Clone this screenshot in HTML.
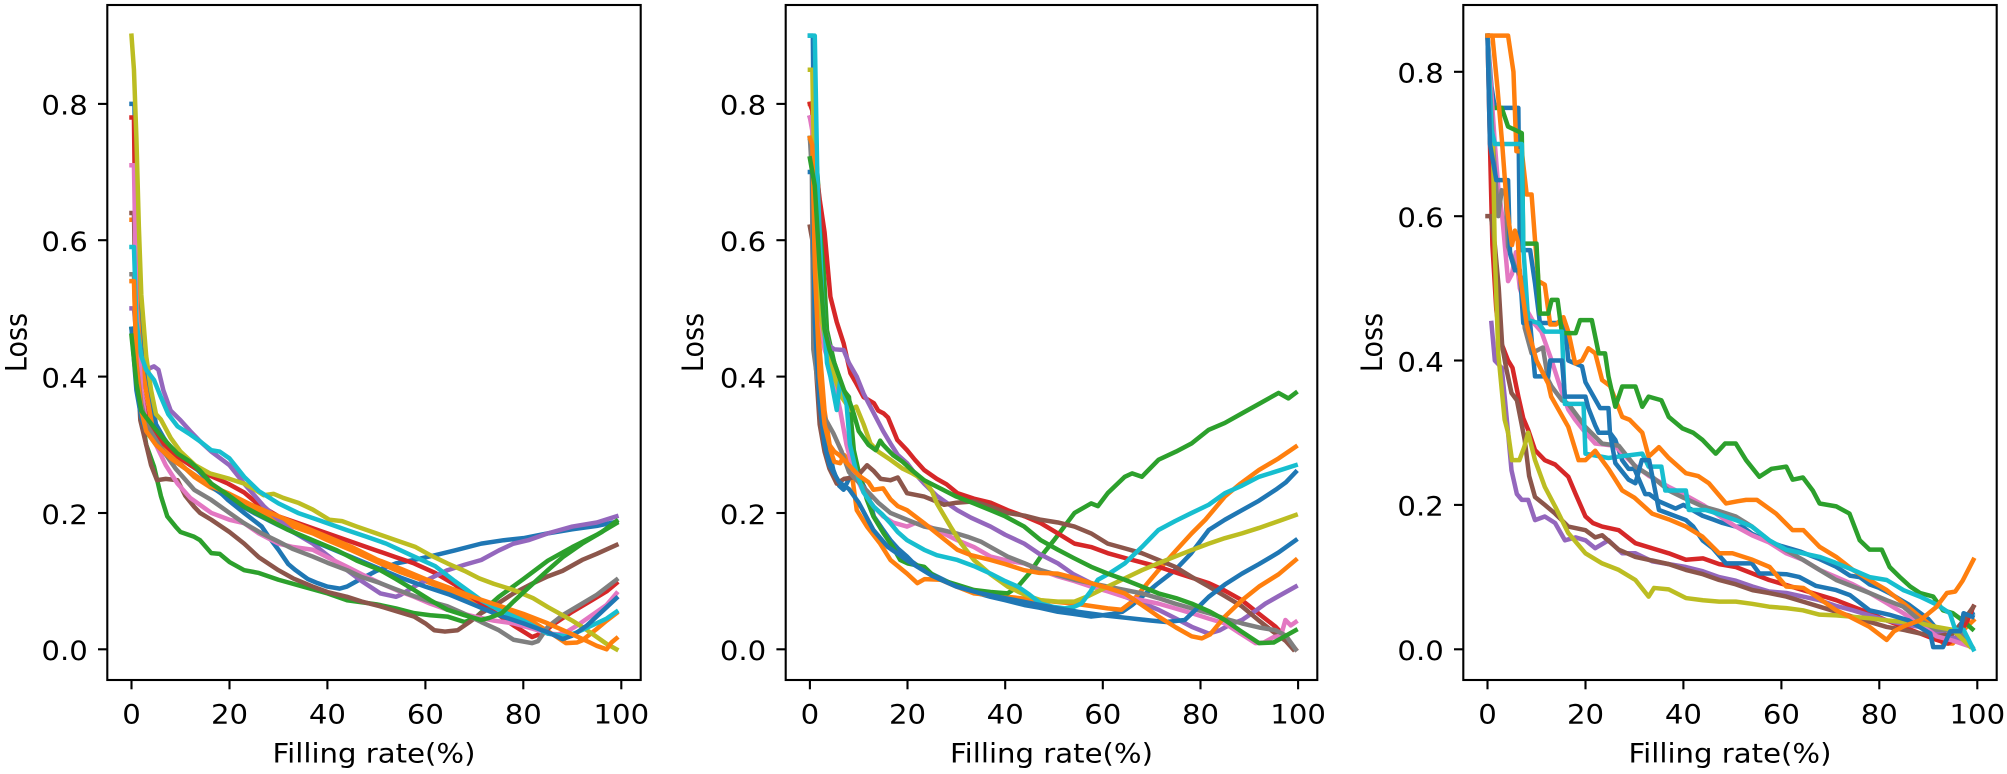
<!DOCTYPE html>
<html><head><meta charset="utf-8"><style>
html,body{margin:0;padding:0;background:#fff;}
svg{display:block;}
text{font-family:"DejaVu Sans","Liberation Sans",sans-serif;font-size:27px;fill:#000;}
.l{fill:none;stroke-width:4.5;stroke-linejoin:round;stroke-linecap:square;vector-effect:non-scaling-stroke;}
.b{stroke:#1f77b4}.o{stroke:#ff7f0e}.g{stroke:#2ca02c}.r{stroke:#d62728}.p{stroke:#9467bd}
.br{stroke:#8c564b}.pk{stroke:#e377c2}.gy{stroke:#7f7f7f}.ol{stroke:#bcbd22}.c{stroke:#17becf}
.tk{stroke:#000;stroke-width:2.1;}
</style></head><body>
<svg width="2007" height="774" viewBox="0 0 2007 774" xmlns="http://www.w3.org/2000/svg">
<defs>
<clipPath id="c1"><rect x="107.3" y="5" width="533.4" height="675"/></clipPath>
<clipPath id="c2"><rect x="785.7" y="5" width="531.6" height="675"/></clipPath>
<clipPath id="c3"><rect x="1463.3" y="5" width="533.4" height="675"/></clipPath>
</defs>
<rect width="2007" height="774" fill="#fff"/>

<!-- PANEL 1 -->
<g clip-path="url(#c1)"><g transform="matrix(4.898 0 0 -0.6818 131.5 649.3)">
<polyline class="l b" points="0,800 0.6,800 1,600 1.5,500 2,440 3,400 4,370 5,330 6.6,310 8,295 10,280 13.5,263 16,245 19.7,219 23,200 26.6,180 28,165 30,146 32,125 33.5,116 36,103 38,97 40,92 42.5,89 44,92 46,100 50,115 54,126 57.7,131 62,138 66,145 71.4,155 76,160 80,163 85,170 90,176 95,181 99,187"/>
<polyline class="l o" points="0,630 0.8,630 1.2,500 2,420 3.2,370 4.6,312 6,300 8,285 10,272 12.8,253 16,238 20,225 23,214 27,200 30,190 33,180 37,170 40,160 45,145 50.8,126 55,113 60,100 64.5,87 70,72 74,62 78,53 82,40 86,22 88.7,9 91,10 92,13 95,30 97,42 99,53"/>
<polyline class="l g" points="0,470 1,430 2,346 3,300 4.6,268 6,225 7.3,195 9,180 10,172 12.8,165 14,160 16.3,141 18,140 20,128 23,116 26,112 30,102 35,92 40,82 44,72 50,66 54,60 57.7,53 61,50 64.5,48 68,40 70,45 72,58 75,77 80,103 85,130 90,150 95,168 99,185"/>
<polyline class="l r" points="0,780 0.5,780 1,480 2,380 3,340 4,330 6,305 9.4,283 12,270 15,258 19.7,243 23,230 26,212 30,195 34,185 38,175 44,160 50,145 54,135 57.7,126 62,112 66,95 71.4,67 75,50 78,35 81.8,18 84,24 86,36 90,55 94,72 97,85 99,97"/>
<polyline class="l p" points="0,500 0.5,500 1,460 2,430 3,410 4.6,415 5.5,410 6.5,380 8,350 10,336 12,320 14,305 16.3,290 20,270 23,243 27,210 30,190 33,172 37,155 40,138 44,116 47,100 50.8,82 54,77 55,80 57.7,92 61,104 64.5,116 68,124 71.4,131 75,145 78,155 81,160 85,170 90,180 95,186 99,195"/>
<polyline class="l br" points="0,640 0.5,640 1,450 1.8,336 3,300 4,270 5.2,248 7,250 9.4,248 11,225 12.8,209 14,200 16.3,190 20,172 23,155 26,135 30,116 33,104 37,92 40,84 44,77 47,70 50.8,63 54,56 57.7,48 60,38 61.8,28 64,26 66.6,28 69,40 71.4,53 75,68 78,82 82,97 85,107 88,115 92,131 95,140 99,153"/>
<polyline class="l pk" points="0,710 0.5,710 1,500 2,380 3,330 5,300 7,270 9.4,243 12,222 16.3,200 20,190 23,185 26,170 30,155 33,150 37,146 40,135 44,121 47,110 50.8,97 54,87 57.7,77 61,67 64.5,58 70,48 74,42 78,38 82,30 85,23 87,22 88.7,25 91,35 94,50 97,65 99,82"/>
<polyline class="l gy" points="0,550 0.5,550 1,420 2,360 3,330 5.9,297 9,265 12.8,234 16.3,219 20,200 23,185 26.6,170 30,158 33,147 37,136 40,127 44,116 47,106 50.8,97 54,88 57.7,78 61,70 64.5,63 68,52 71.4,40 75,28 78,14 81.8,9 83,12 85,33 88,50 92,67 95,80 99,102"/>
<polyline class="l ol" points="0,900 0.5,850 1,750 1.5,620 2,520 3,430 4,380 5,345 6,337 8,310 10,290 13,270 16,258 20,250 23,243 25,235 27,226 29,228 31,222 34,215 37,205 40.4,190 43,188 46,180 50,170 54,160 58,150 61,138 64.5,126 68,115 71,104 74,96 78,87 82,75 85,62 88,50 90,42 92,33 95,18 97,8 99,0"/>
<polyline class="l c" points="0,590 0.5,590 1,480 2,430 3,410 4.6,395 6,370 7.5,345 9.4,327 12,315 14,305 16.3,292 18,290 20,280 23,253 26,232 30,214 34,200 38,190 43.9,175 48,165 52,155 57.7,136 62,122 66,100 71.4,72 75,58 80,42 85,23 88.7,19 91,25 94,35 97,45 99,55"/>
<polyline class="l b" points="0,470 1,380 2,340 3,320 5,300 8,280 10,270 15,245 20,220 25,200 30,182 35,165 40,150 45,135 50,120 55,105 60,92 65,80 70,65 75,50 80,38 85,25 88,15 90,20 93,35 96,55 99,75"/>
<polyline class="l o" points="0,540 0.5,540 1,420 2,350 3,320 5,300 8,280 12,260 16,240 20,228 25,210 30,195 35,180 40,165 45,150 50,132 55,118 60,103 65,90 70,76 75,64 80,52 85,38 90,22 93,12 95,5 97,0 98,10 99,16"/>
<polyline class="l g" points="0,460 1,390 2,350 3,340 5,322 7,305 9.4,287 12,275 14,262 16.3,243 20,225 23,209 28,190 32,175 37,160 42,145 46,130 50.8,116 54,103 57.7,87 61,72 64.5,58 68,50 71.4,43 73,46 75.6,53 78,70 81,90 85,116 88,135 92,155 96,172 99,188"/>
</g></g>

<!-- PANEL 2 -->
<g clip-path="url(#c2)"><g transform="matrix(4.882 0 0 -0.6818 809.9 649.3)">
<polyline class="l b" points="0,900 0.6,900 1,620 1.5,450 2,376 3,320 4.8,263 6,240 6.9,234 8,250 9,260 10,255 12,225 13.1,195 15,175 16.5,160 18,148 19.9,136 21,128 23.4,116 26,107 30.2,92 33,85 37,77 40,72 43.9,65 47,61 50.8,55 54,52 57.6,48 60,50 62,52 64,55 66,65 68,77 71,95 74.8,116 78,140 81.7,175 85,190 88.5,204 92,218 95.4,234 97.5,245 99.5,260"/>
<polyline class="l o" points="0,800 0.5,800 1,600 2,440 3,350 4.2,292 5,275 6.2,273 7,285 7.6,280 8.5,262 9.6,204 11.7,180 14.4,155 16.5,131 19.9,111 22,97 23.5,103 26.8,102 30,92 33.6,82 40.5,77 47,72 54.2,67 61,60 63.8,58 66,70 68,87 71.4,116 75,145 78.2,170 81,190 85,224 88,242 92,263 96,280 99.5,297"/>
<polyline class="l g" points="0,750 1,750 1.5,700 2.5,600 3.5,468 5,420 6.9,380 8,370 9,292 10,260 11.7,219 13,195 15.1,170 17,150 18.5,131 20,126 23.4,121 25,110 26.8,102 30,95 33.6,87 37,84 40.5,82 42.6,92 45,112 47.3,136 50,160 54.2,200 57.6,214 59,210 61,229 64.5,253 66,258 68,253 71.4,278 75,290 78.2,302 81.7,322 85,332 88.5,346 92,360 96,376 98,368 99.5,376"/>
<polyline class="l r" points="0,800 0.5,790 1,720 2,660 3,612 4.2,517 5.5,480 6.9,449 8.3,405 9.5,390 11,370 13.1,361 14,350 15.1,346 16,340 17.9,307 19.9,292 21.5,278 23.4,263 26,250 28,242 30.2,229 33.6,221 37,215 40.5,204 44,195 47.3,185 50.8,170 54.2,155 57.6,150 61,141 65,133 71.4,121 76,110 81.7,97 85,86 88.5,72 92,52 95.4,33 97.5,17 99.5,0"/>
<polyline class="l p" points="0,780 0.5,770 1,620 2,520 3,470 4,445 5,440 6.9,439 8,420 9.6,400 11,375 13.1,346 15,320 16.5,302 18,285 19.9,273 21.5,258 23.4,243 26,225 28,215 30.2,204 33,193 37,180 40,168 43.9,155 47,140 50.8,126 54,110 57.6,97 61,86 64.5,77 68,68 71.4,58 75,45 78.2,33 81.7,23 84,28 86,36 88.5,43 91,55 93.3,67 96,78 99.5,92"/>
<polyline class="l br" points="0,620 0.5,600 1,440 2,330 3,290 4,265 5.5,243 7,250 9.6,253 11.7,270 13,262 14.5,250 16.5,248 18,252 19.9,229 23.4,224 25.5,218 27.5,212 30,215 33.6,217 37,209 40.5,200 44,196 47.3,190 50.8,186 54.2,180 57.6,170 61,155 64.5,148 68,141 71.4,131 74.8,121 78,107 81.7,92 85,78 88.5,63 92,42 95.4,23 97.5,12 99,0"/>
<polyline class="l pk" points="0,780 0.5,760 1,600 2,500 3,440 4.2,415 5,390 6.2,351 7.5,300 9,260 11,230 13,210 15,195 17,186 19.9,180 21.5,185 23.4,183 26,175 30.2,160 33.6,150 37,136 40.5,130 43.9,126 47.3,116 50.8,107 54.2,100 57.6,92 61,85 64.5,77 68,72 71.4,67 74.8,60 78.2,53 81.7,45 85,38 88,24 91.3,9 93,10 95,18 96.5,20 97.4,43 98.5,35 99.5,40"/>
<polyline class="l gy" points="0,750 0.4,700 0.7,440 2.1,366 3,340 4.8,317 6.5,290 8,260 10,245 12,230 14,215 16.5,200 19.9,190 23.4,180 27,175 30,170 32.3,165 35,158 37,150 40.5,136 44,126 47.3,116 50.8,109 54.2,102 57.6,97 61,92 64.5,87 68,82 71.4,75 74.8,67 78.2,60 81.7,53 85,45 88.5,38 92,32 95.4,28 97.5,20 99.5,0"/>
<polyline class="l ol" points="0,850 0.5,850 1,650 2,500 3.5,439 5,400 6.5,370 8.3,351 9.5,356 11,330 12.4,302 14,290 16.5,278 19,265 21,258 23.4,248 25,232 26,214 28.8,180 31,155 33.6,131 37,110 40.5,92 44,80 47.3,72 50.8,70 54.2,70 57,78 61,92 64.5,104 68,116 71,125 74.8,136 78,145 81.7,155 85,163 88.5,170 92,178 96,188 99.5,197"/>
<polyline class="l c" points="0,900 1,900 1.5,700 2.5,520 3.5,420 4.2,400 5,370 5.5,351 6.2,395 6.9,380 7.5,360 8.2,300 9.5,260 11,230 13.1,209 14.8,198 16.5,185 18,172 19.9,160 23.4,146 26,138 30.2,131 33.6,122 37,111 40,100 42.6,92 45,80 47.3,67 50,62 52.2,60 54,62 55.6,67 57.5,85 59,102 61.5,112 64.5,126 68,150 71.4,175 74.8,188 78.2,200 81.7,212 85,229 88.5,240 92,253 96,262 99.5,270"/>
<polyline class="l b" points="0,700 0.5,700 1,480 2,360 3,300 4,270 6,245 8,235 10,215 13,175 16,150 20,130 25,108 30,92 35,82 40,75 45,68 50,61 55,55 60,50 65,46 70,42 73,40 76.8,43 79,58 81.7,77 85,95 88.5,111 92,125 96,142 99.5,160"/>
<polyline class="l o" points="0,750 0.5,740 1,560 2,400 3,330 4,300 5,290 6,285 8,270 10,255 12,245 13,234 15,236 16.5,220 18,210 19.9,204 23.4,185 26,170 30.2,146 33,138 37,131 40,125 43.9,116 47,112 50.8,111 54,105 57.6,97 61,90 64.5,82 68,65 71.4,48 75,32 78.2,19 80.3,16 82,22 85,48 88.5,72 92,92 96,110 99.5,131"/>
<polyline class="l g" points="0,720 1,680 2,560 3,470 4,440 5,420 6,400 7,380 8,366 9,345 10,320 12,300 13.5,292 14.4,306 15,300 17,285 19,275 21,262 23.4,248 27,235 30,224 33.6,214 37,204 40,195 43.9,180 47.3,160 50.8,146 54,134 57.6,121 61,111 64.5,102 68,92 71.4,82 75,75 78.2,67 82,55 85,43 88,28 92,9 95,10 97,18 99.5,28"/>
</g></g>

<!-- PANEL 3 -->
<g clip-path="url(#c3)"><g transform="matrix(4.898 0 0 -0.7219 1487.5 649.3)">
<polyline class="l b" points="0,850 0.8,780 1.5,750 6.3,750 6.6,553 8.7,553 9.7,507 10.7,452 15.8,452 16.5,400 19.3,392 20,370 23,334 24.7,334 25,300 26.1,290 27.5,262 28.8,250 30,250 32.2,215 33,215 35,205 38.4,195 40,200 43.9,185 46,180 48,175 50.7,170 52,170 54,160 57,150 60,143 64,135 67.8,125 71,115 74,102 76,100 78,90 80,85 82,78 84,70 86,62 88,52 90,42 91.5,30 92.5,12 94,12 95,25 96.5,30 97.5,45 99,50"/>
<polyline class="l o" points="0,850 4.2,850 5.3,800 5.9,690 7,690 8,630 9,630 9.7,567 10.4,510 11.7,505 12.8,450 14,450 15.5,460 16.5,440 17.9,396 19.3,400 20.6,417 22,410 23.4,373 25,365 27.5,322 29,318 31.6,300 32.9,267 35,280 37,265 40.5,244 43,240 45.2,230 48.7,202 51,205 52.8,207 55,207 58.9,188 62.3,165 64.5,165 67.8,142 71.2,128 74.6,110 78,96 81.5,82 84.9,64 88.3,45 91.7,27 93,8 95,8 97.2,27 99.2,40"/>
<polyline class="l g" points="0,850 0.8,750 2.9,750 4.2,724 7,715 7.3,562 10,562 10.7,465 12.4,465 13.1,484 14.3,484 15.2,438 18,438 18.9,456 21.3,456 22.7,410 24,410 24.7,378 26.1,336 27.5,364 30.2,364 31.6,336 32.9,350 35.5,345 37,322 39.8,306 42,300 43.9,290 46.6,271 48.5,285 50.7,285 52.8,262 55.5,239 58,250 61,253 62.3,235 64.4,238 66.4,220 67.8,202 71.2,198 73.9,188 76,151 78,138 80.5,138 82.1,114 84.2,100 86.3,87 88.3,78 91,73 93,54 95,50 97,40 98.5,31 99,28"/>
<polyline class="l r" points="0,850 0.5,700 1,560 1.8,470 2.5,430 4.2,400 5.1,390 6.3,350 7.3,320 8.3,304 9.7,276 11.7,262 13.8,256 16.5,239 18,215 20,184 21.5,175 23.4,170 26.8,165 30.2,147 33.6,140 37,133 40.5,124 44,126 47.3,118 50.7,114 54.1,105 57.5,96 61,89 64.4,82 67.8,75 71.2,68 74.6,59 78,50 81.5,40 84.9,31 88.3,22 91.7,13 94,8 96,18 98,40 99.2,59"/>
<polyline class="l p" points="0.8,452 1.5,400 2.9,390 3.5,350 4.2,300 4.9,248 6,215 7,207 8.3,207 9.7,179 11.7,184 13.8,175 15.8,151 18,155 20,151 22,140 24.7,151 27.5,133 30.2,133 33.6,122 37,118 40.5,114 44,108 47.3,100 50.7,95 54.1,87 57.5,80 61,78 64.4,73 67.8,68 71.2,60 74.6,54 78,47 81.5,40 84.9,35 88.3,31 91.7,25 95,17 98.5,4"/>
<polyline class="l br" points="0,600 0.7,600 1.5,560 2.3,500 3,420 3.8,390 4.9,355 6,345 7.6,290 8.5,240 9.7,211 11.7,200 13.8,188 16.5,170 20,165 22,155 23.4,158 26.8,138 30.2,128 33.6,123 37,118 40.5,110 44,104 47.3,96 50.7,90 54.1,82 57.5,78 61,73 64.4,66 67.8,59 71.2,52 74.6,45 78,38 81.5,31 84.9,27 88.3,22 91.7,18 95,22 97.2,40 99.2,59"/>
<polyline class="l pk" points="0,850 0.7,780 1.5,700 2.2,640 3,600 4.2,510 5,520 5.8,550 6.6,500 8,470 9.7,450 11,440 13.1,400 15,360 16.5,332 17.9,318 20,300 22,285 26,282 30,255 33,240 37,225 40,215 44,200 47.3,185 50.7,170 54,158 57.5,148 61,133 64.4,124 67.8,110 71.2,100 74.6,90 78,78 81.5,64 84.9,50 88.3,35 91.7,18 95,12 98.5,4"/>
<polyline class="l gy" points="0,850 0.5,780 1.1,700 2.2,600 2.9,636 3.7,630 4.2,558 5.6,530 6.9,515 7.6,445 9,410 10.4,415 11.3,418 12.4,373 13.1,364 15.2,345 16.5,340 20,308 23.4,285 26.8,282 30.2,253 33.6,239 37,220 40,210 43.9,198 47,192 50.7,184 54,170 57.5,151 61,137 64.4,124 67.8,110 71.2,96 74.6,87 78,78 81.5,68 84.9,59 88.3,40 91.7,27 95,27 97,20 98.5,8 99,3"/>
<polyline class="l ol" points="0.8,700 1.1,700 1.5,548 2.2,410 2.9,360 3.5,318 4.2,300 5,262 5.6,262 6.5,262 7.5,280 8.3,300 9.7,262 11.7,225 13.8,198 16.5,161 20,133 23.4,119 26.8,110 30.2,96 32.9,73 34,85 37,83 40.5,71 44,68 47.3,66 50.7,66 54,63 57.5,59 61,57 64.4,54 67.8,48 71.2,47 74.6,45 78,43 81.5,40 84.9,38 88.3,36 91.7,31 95,27 98.5,4"/>
<polyline class="l c" points="0,850 0.8,720 1.5,700 7,700 7.3,558 8.3,456 10.4,452 11.7,440 15.2,440 15.8,340 19.6,340 20,271 24.7,265 26.8,267 31.6,271 32.9,253 35.5,253 36.3,220 40.5,220 41.1,193 44.5,193 46,190 50.7,179 54,170 57.5,151 61,138 64.4,133 67.8,128 71,120 74.6,110 78,100 81.5,96 84.9,82 88.3,73 91.7,62 94.4,50 95.5,27 97.2,27 99.2,0"/>
<polyline class="l b" points="0,850 0.5,700 1.8,650 4.2,650 4.6,548 5.6,525 6.6,525 7.3,452 8.7,452 9.7,378 12.4,378 12.8,400 15.2,400 15.8,350 20,350 20.6,334 22,310 22.7,300 25,300 26.1,258 28.8,235 30.2,230 31.5,262 33,262 35,193 37,188 40.5,179 42,170 43.9,151 46,140 48.7,119 54,119 55.5,105 58,105 61,104 63.7,100 67,88 71.2,82 74,75 78,54 82,48 86,40 90.4,22 91,3 93,3 94.5,25 96.5,25 97.2,50 99,45"/>
<polyline class="l o" points="0,850 1,850 2,780 3,700 4,610 5,560 5.6,580 6.2,565 6.6,520 8,450 10,400 12.4,368 13,350 16.5,308 18.6,262 20,262 22,275 24.7,250 27.5,220 30,210 33.6,188 37,180 40.5,170 43.9,156 47.3,133 50,133 54.1,124 57.6,114 61,87 64.5,85 67.8,70 71.2,54 74,45 78,31 81.5,13 83,25 85,32 88.3,40 91.7,59 93.8,78 95.5,80 97,95 99.2,124"/>
</g></g>

<!-- AXES FRAMES -->
<rect x="107.3" y="5" width="533.4" height="675" fill="none" stroke="#000" stroke-width="2.1"/>
<rect x="785.7" y="5" width="531.6" height="675" fill="none" stroke="#000" stroke-width="2.1"/>
<rect x="1463.3" y="5" width="533.4" height="675" fill="none" stroke="#000" stroke-width="2.1"/>

<!-- TICKS -->
<g class="tk">
<line x1="98" y1="649.3" x2="107.3" y2="649.3"/><line x1="98" y1="513" x2="107.3" y2="513"/><line x1="98" y1="376.6" x2="107.3" y2="376.6"/><line x1="98" y1="240.2" x2="107.3" y2="240.2"/><line x1="98" y1="103.9" x2="107.3" y2="103.9"/>
<line x1="131.5" y1="680" x2="131.5" y2="689.3"/><line x1="229.5" y1="680" x2="229.5" y2="689.3"/><line x1="327.4" y1="680" x2="327.4" y2="689.3"/><line x1="425.4" y1="680" x2="425.4" y2="689.3"/><line x1="523.3" y1="680" x2="523.3" y2="689.3"/><line x1="621.3" y1="680" x2="621.3" y2="689.3"/>
<line x1="776.4" y1="649.3" x2="785.7" y2="649.3"/><line x1="776.4" y1="513" x2="785.7" y2="513"/><line x1="776.4" y1="376.6" x2="785.7" y2="376.6"/><line x1="776.4" y1="240.2" x2="785.7" y2="240.2"/><line x1="776.4" y1="103.9" x2="785.7" y2="103.9"/>
<line x1="809.9" y1="680" x2="809.9" y2="689.3"/><line x1="907.5" y1="680" x2="907.5" y2="689.3"/><line x1="1005.2" y1="680" x2="1005.2" y2="689.3"/><line x1="1102.8" y1="680" x2="1102.8" y2="689.3"/><line x1="1200.5" y1="680" x2="1200.5" y2="689.3"/><line x1="1298.1" y1="680" x2="1298.1" y2="689.3"/>
<line x1="1454" y1="649.3" x2="1463.3" y2="649.3"/><line x1="1454" y1="504.9" x2="1463.3" y2="504.9"/><line x1="1454" y1="360.5" x2="1463.3" y2="360.5"/><line x1="1454" y1="216.2" x2="1463.3" y2="216.2"/><line x1="1454" y1="71.8" x2="1463.3" y2="71.8"/>
<line x1="1487.5" y1="680" x2="1487.5" y2="689.3"/><line x1="1585.5" y1="680" x2="1585.5" y2="689.3"/><line x1="1683.4" y1="680" x2="1683.4" y2="689.3"/><line x1="1781.4" y1="680" x2="1781.4" y2="689.3"/><line x1="1879.3" y1="680" x2="1879.3" y2="689.3"/><line x1="1977.3" y1="680" x2="1977.3" y2="689.3"/>
</g>

<!-- TICK LABELS -->
<g text-anchor="end">
<text transform="translate(87.8 660.1) scale(1.08 1)">0.0</text><text transform="translate(87.8 523.8) scale(1.08 1)">0.2</text><text transform="translate(87.8 387.4) scale(1.08 1)">0.4</text><text transform="translate(87.8 251) scale(1.08 1)">0.6</text><text transform="translate(87.8 114.7) scale(1.08 1)">0.8</text>
<text transform="translate(766.2 660.1) scale(1.08 1)">0.0</text><text transform="translate(766.2 523.8) scale(1.08 1)">0.2</text><text transform="translate(766.2 387.4) scale(1.08 1)">0.4</text><text transform="translate(766.2 251) scale(1.08 1)">0.6</text><text transform="translate(766.2 114.7) scale(1.08 1)">0.8</text>
<text transform="translate(1443.8 660.1) scale(1.08 1)">0.0</text><text transform="translate(1443.8 515.7) scale(1.08 1)">0.2</text><text transform="translate(1443.8 371.3) scale(1.08 1)">0.4</text><text transform="translate(1443.8 227) scale(1.08 1)">0.6</text><text transform="translate(1443.8 82.6) scale(1.08 1)">0.8</text>
</g>
<g text-anchor="middle">
<text transform="translate(131.5 723.3) scale(1.08 1)">0</text><text transform="translate(229.5 723.3) scale(1.08 1)">20</text><text transform="translate(327.4 723.3) scale(1.08 1)">40</text><text transform="translate(425.4 723.3) scale(1.08 1)">60</text><text transform="translate(523.3 723.3) scale(1.08 1)">80</text><text transform="translate(621.3 723.3) scale(1.08 1)">100</text>
<text transform="translate(809.9 723.3) scale(1.08 1)">0</text><text transform="translate(907.5 723.3) scale(1.08 1)">20</text><text transform="translate(1005.2 723.3) scale(1.08 1)">40</text><text transform="translate(1102.8 723.3) scale(1.08 1)">60</text><text transform="translate(1200.5 723.3) scale(1.08 1)">80</text><text transform="translate(1298.1 723.3) scale(1.08 1)">100</text>
<text transform="translate(1487.5 723.3) scale(1.08 1)">0</text><text transform="translate(1585.5 723.3) scale(1.08 1)">20</text><text transform="translate(1683.4 723.3) scale(1.08 1)">40</text><text transform="translate(1781.4 723.3) scale(1.08 1)">60</text><text transform="translate(1879.3 723.3) scale(1.08 1)">80</text><text transform="translate(1977.3 723.3) scale(1.08 1)">100</text>
<text transform="translate(374 762.5) scale(1.08 1)">Filling rate(%)</text>
<text transform="translate(1051.5 762.5) scale(1.08 1)">Filling rate(%)</text>
<text transform="translate(1730 762.5) scale(1.08 1)">Filling rate(%)</text>
<text transform="translate(26.5 342.5) rotate(-90) scale(1 1.08)">Loss</text>
<text transform="translate(703 342.5) rotate(-90) scale(1 1.08)">Loss</text>
<text transform="translate(1382 342.5) rotate(-90) scale(1 1.08)">Loss</text>
</g>
</svg>
</body></html>
